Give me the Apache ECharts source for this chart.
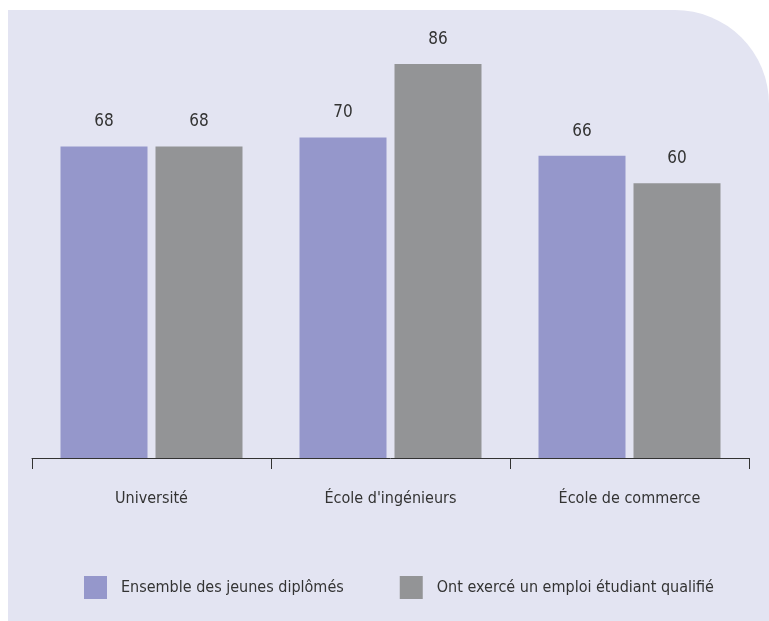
<!DOCTYPE html>
<html>
<head>
<meta charset="utf-8">
<script src="https://cdn.jsdelivr.net/npm/echarts@6/dist/echarts.min.js"></script>
<style>
  html, body { margin: 0; padding: 0; background: #ffffff; }
  #chart { width: 769px; height: 621px; }
</style>
</head>
<body>
<div id="chart"></div>
<script>
// Part des jeunes diplômés selon le type d'établissement (%)
const categories = ['Université', 'École d\'ingénieurs', 'École de commerce'];
const seriesNames = ['Ensemble des jeunes diplômés', 'Ont exercé un emploi étudiant qualifié'];
const ensemble = [68, 70, 66];
const emploiQualifie = [68, 86, 60];

const FONT = '"DejaVu Sans Condensed", "DejaVu Sans", sans-serif';
const chart = echarts.init(document.getElementById('chart'), null, { renderer: 'canvas' });

chart.setOption({
  backgroundColor: '#ffffff',
  animation: false,
  textStyle: { fontFamily: FONT },
  graphic: [{
    type: 'rect',
    z: -10,
    silent: true,
    shape: { x: 8, y: 10, width: 761, height: 611, r: [0, 94, 0, 0] },
    style: { fill: '#e3e4f2' }
  }],
  legend: {
    left: 84,
    top: 576,
    padding: 0,
    itemWidth: 23,
    itemHeight: 23,
    itemGap: 56,
    icon: 'rect',
    textStyle: { fontFamily: FONT, fontSize: 16, color: '#333333', padding: [6, 0, 0, 9] },
    data: seriesNames
  },
  grid: { left: 32, right: 20, top: -2, height: 460, containLabel: false },
  xAxis: {
    type: 'category',
    data: categories,
    axisLine: { show: true, lineStyle: { color: '#333333', width: 1 } },
    axisTick: { show: true, length: 11, lineStyle: { color: '#333333', width: 1 } },
    axisLabel: { margin: 33, fontFamily: FONT, fontSize: 16, color: '#333333' }
  },
  yAxis: {
    type: 'value',
    min: 0,
    max: 100,
    show: false,
    splitLine: { show: false }
  },
  series: [
    {
      name: seriesNames[0],
      type: 'bar',
      data: ensemble,
      barWidth: 87,
      barGap: '9.2%',
      itemStyle: { color: '#9597cb' },
      label: { show: true, position: 'top', distance: 16, fontFamily: FONT, fontSize: 17, color: '#333333' }
    },
    {
      name: seriesNames[1],
      type: 'bar',
      data: emploiQualifie,
      barWidth: 87,
      barGap: '9.2%',
      itemStyle: { color: '#939496' },
      label: { show: true, position: 'top', distance: 16, fontFamily: FONT, fontSize: 17, color: '#333333' }
    }
  ]
});
</script>
</body>
</html>
